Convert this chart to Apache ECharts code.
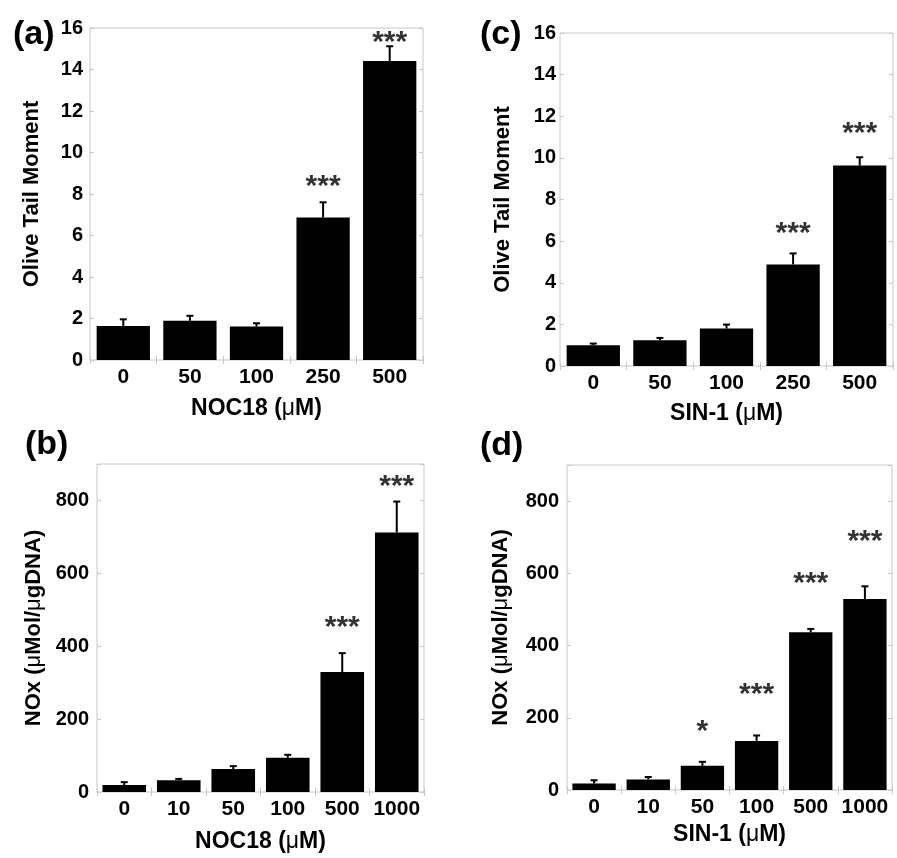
<!DOCTYPE html>
<html>
<head>
<meta charset="utf-8">
<script src="https://cdn.jsdelivr.net/npm/echarts@6/dist/echarts.min.js"></script>
<style>html,body{margin:0;padding:0;background:#fff;}#c{width:897px;height:858px;}</style>
</head>
<body>
<div id="c"></div>
<script>
// ---- Data ----
// Panel (a): NOC18, Olive Tail Moment
const catsA = ['0', '50', '100', '250', '500'];
const valsA = [1.64, 1.89, 1.61, 6.87, 14.41];
const errA = [0.32, 0.24, 0.16, 0.73, 0.71];
const starsA = ['', '', '', '***', '***'];
const starPosA = [null, null, null, 8.55, 15.5];

// Panel (c): SIN-1, Olive Tail Moment
const catsC = ['0', '50', '100', '250', '500'];
const valsC = [1.0, 1.24, 1.8, 4.88, 9.63];
const errC = [0.08, 0.11, 0.19, 0.53, 0.4];
const starsC = ['', '', '', '***', '***'];
const starPosC = [null, null, null, 6.55, 11.35];

// Panel (b): NOC18, NOx
const catsB = ['0', '10', '50', '100', '500', '1000'];
const valsB = [19, 32, 63, 94, 329, 712];
const errB = [8, 4, 8, 8, 52, 85];
const starsB = ['', '', '', '', '***', '***'];
const starPosB = [null, null, null, null, 461, 849];

// Panel (d): SIN-1, NOx
const catsD = ['0', '10', '50', '100', '500', '1000'];
const valsD = [18, 29, 67, 136, 437, 529];
const errD = [9, 7, 11, 15, 9, 35];
const starsD = ['', '', '*', '***', '***', '***'];
const starPosD = [null, null, 173, 276, 581, 699];

// Axis ranges
const yTopMoment = 16, yStepMoment = 2;
const yTopNOx = 900, yStepNOx = 200, yLabelMaxNOx = 800;

const FONT = '"Liberation Sans", Arial, Helvetica, sans-serif';
const GRAY = '#c8c8c8';

const panels = [
  { cats: catsA, vals: valsA, err: errA, stars: starsA, starPos: starPosA,
    grid: { left: 90, top: 28, width: 333, height: 332 },
    ymax: yTopMoment, ystep: yStepMoment, labelMax: yTopMoment,
    xname: 'NOC18 ({m|\u03bc}M)', yname: 'Olive Tail Moment', yGap: 47, xGap: 37, yLabelMargin: 7 },
  { cats: catsC, vals: valsC, err: errC, stars: starsC, starPos: starPosC,
    grid: { left: 560, top: 33, width: 333, height: 333 },
    ymax: yTopMoment, ystep: yStepMoment, labelMax: yTopMoment,
    xname: 'SIN-1 ({m|\u03bc}M)', yname: 'Olive Tail Moment', yGap: 46, xGap: 36, yLabelMargin: 4 },
  { cats: catsB, vals: valsB, err: errB, stars: starsB, starPos: starPosB,
    grid: { left: 97, top: 464, width: 327, height: 328 },
    ymax: yTopNOx, ystep: yStepNOx, labelMax: yLabelMaxNOx,
    xname: 'NOC18 ({m|\u03bc}M)', yname: 'NOx ({m|\u03bc}Mol/{m|\u03bc}gDNA)', yGap: 52, xGap: 38, yLabelMargin: 8 },
  { cats: catsD, vals: valsD, err: errD, stars: starsD, starPos: starPosD,
    grid: { left: 567, top: 465, width: 325, height: 325 },
    ymax: yTopNOx, ystep: yStepNOx, labelMax: yLabelMaxNOx,
    xname: 'SIN-1 ({m|\u03bc}M)', yname: 'NOx ({m|\u03bc}Mol/{m|\u03bc}gDNA)', yGap: 55, xGap: 33, yLabelMargin: 8 }
];

const grids = [], xAxes = [], yAxes = [], series = [];
const tickStyle = { show: true, inside: true, length: 4, lineStyle: { color: GRAY, width: 1 } };

panels.forEach((p, i) => {
  grids.push(Object.assign({ show: true, borderColor: GRAY, borderWidth: 1, backgroundColor: 'transparent' }, p.grid));
  xAxes.push({
    type: 'category', gridIndex: i, position: 'bottom', data: p.cats,
    axisLine: { show: false }, axisTick: Object.assign({ alignWithLabel: false }, tickStyle),
    axisLabel: { color: '#000', fontFamily: FONT, fontWeight: 'bold', fontSize: 21, margin: 7, interval: 0 },
    name: p.xname, nameLocation: 'middle', nameGap: p.xGap,
    nameTextStyle: { color: '#000', fontFamily: FONT, fontWeight: 'bold', fontSize: 23, rich: { m: { fontFamily: FONT, fontWeight: 'normal', fontSize: 23 } } }
  });
  xAxes.push({
    type: 'category', gridIndex: i, position: 'top', data: p.cats,
    axisLine: { show: false }, axisTick: Object.assign({ alignWithLabel: false }, tickStyle),
    axisLabel: { show: false }
  });
  yAxes.push({
    type: 'value', gridIndex: i, position: 'left', min: 0, max: p.ymax, interval: p.ystep,
    axisLine: { show: false }, axisTick: tickStyle, splitLine: { show: false },
    axisLabel: { color: '#000', fontFamily: FONT, fontWeight: 'bold', fontSize: 20, margin: p.yLabelMargin,
      formatter: v => (v > p.labelMax ? '' : String(v)) },
    name: p.yname, nameLocation: 'middle', nameGap: p.yGap,
    nameTextStyle: { color: '#000', fontFamily: FONT, fontWeight: 'bold', fontSize: 22, rich: { m: { fontFamily: FONT, fontWeight: 'normal', fontSize: 22 } } }
  });
  yAxes.push({
    type: 'value', gridIndex: i, position: 'right', min: 0, max: p.ymax, interval: p.ystep,
    axisLine: { show: false }, axisTick: tickStyle, splitLine: { show: false },
    axisLabel: { show: false }
  });
  // Bars
  series.push({
    type: 'bar', xAxisIndex: 2 * i, yAxisIndex: 2 * i, data: p.vals,
    barCategoryGap: '20%', itemStyle: { color: '#000' }, silent: true, animation: false
  });
  // Error bars (upper only)
  series.push({
    type: 'custom', xAxisIndex: 2 * i, yAxisIndex: 2 * i, z: 5, animation: false, silent: true,
    data: p.vals.map((v, k) => [k, v, p.err[k]]),
    encode: { x: 0, y: 1 },
    renderItem: function (params, api) {
      const k = api.value(0), v = api.value(1), e = api.value(2);
      const p0 = api.coord([k, v]);
      const p1 = api.coord([k, v + e]);
      return {
        type: 'group', children: [
          { type: 'line', shape: { x1: p0[0], y1: p0[1], x2: p1[0], y2: p1[1] }, style: { stroke: '#000', lineWidth: 2 } },
          { type: 'line', shape: { x1: p1[0] - 3.5, y1: p1[1], x2: p1[0] + 3.5, y2: p1[1] }, style: { stroke: '#000', lineWidth: 2 } }
        ]
      };
    }
  });
  // Significance stars
  series.push({
    type: 'scatter', xAxisIndex: 2 * i, yAxisIndex: 2 * i, symbolSize: 0, silent: true, animation: false, z: 6,
    data: p.starPos.map((y, k) => (y == null ? null : { value: [k, y], star: p.stars[k] })).filter(d => d),
    label: {
      show: true, position: 'inside', offset: [0, 4],
      formatter: prm => prm.data.star,
      color: '#000', fontFamily: FONT, fontWeight: 'bold', fontSize: 30
    }
  });
});

const panelLabels = [
  { t: '(a)', x: 13, y: 37 },
  { t: '(c)', x: 480, y: 37 },
  { t: '(b)', x: 25, y: 447 },
  { t: '(d)', x: 480, y: 448 }
];

const chart = echarts.init(document.getElementById('c'), null, { renderer: 'canvas' });
chart.setOption({
  animation: false,
  backgroundColor: '#fff',
  grid: grids,
  xAxis: xAxes,
  yAxis: yAxes,
  series: series,
  graphic: panelLabels.map(l => ({
    type: 'text', left: l.x, top: l.y - 19,
    style: { text: l.t, fill: '#000', font: 'bold 34px ' + FONT }
  }))
});
</script>
</body>
</html>
